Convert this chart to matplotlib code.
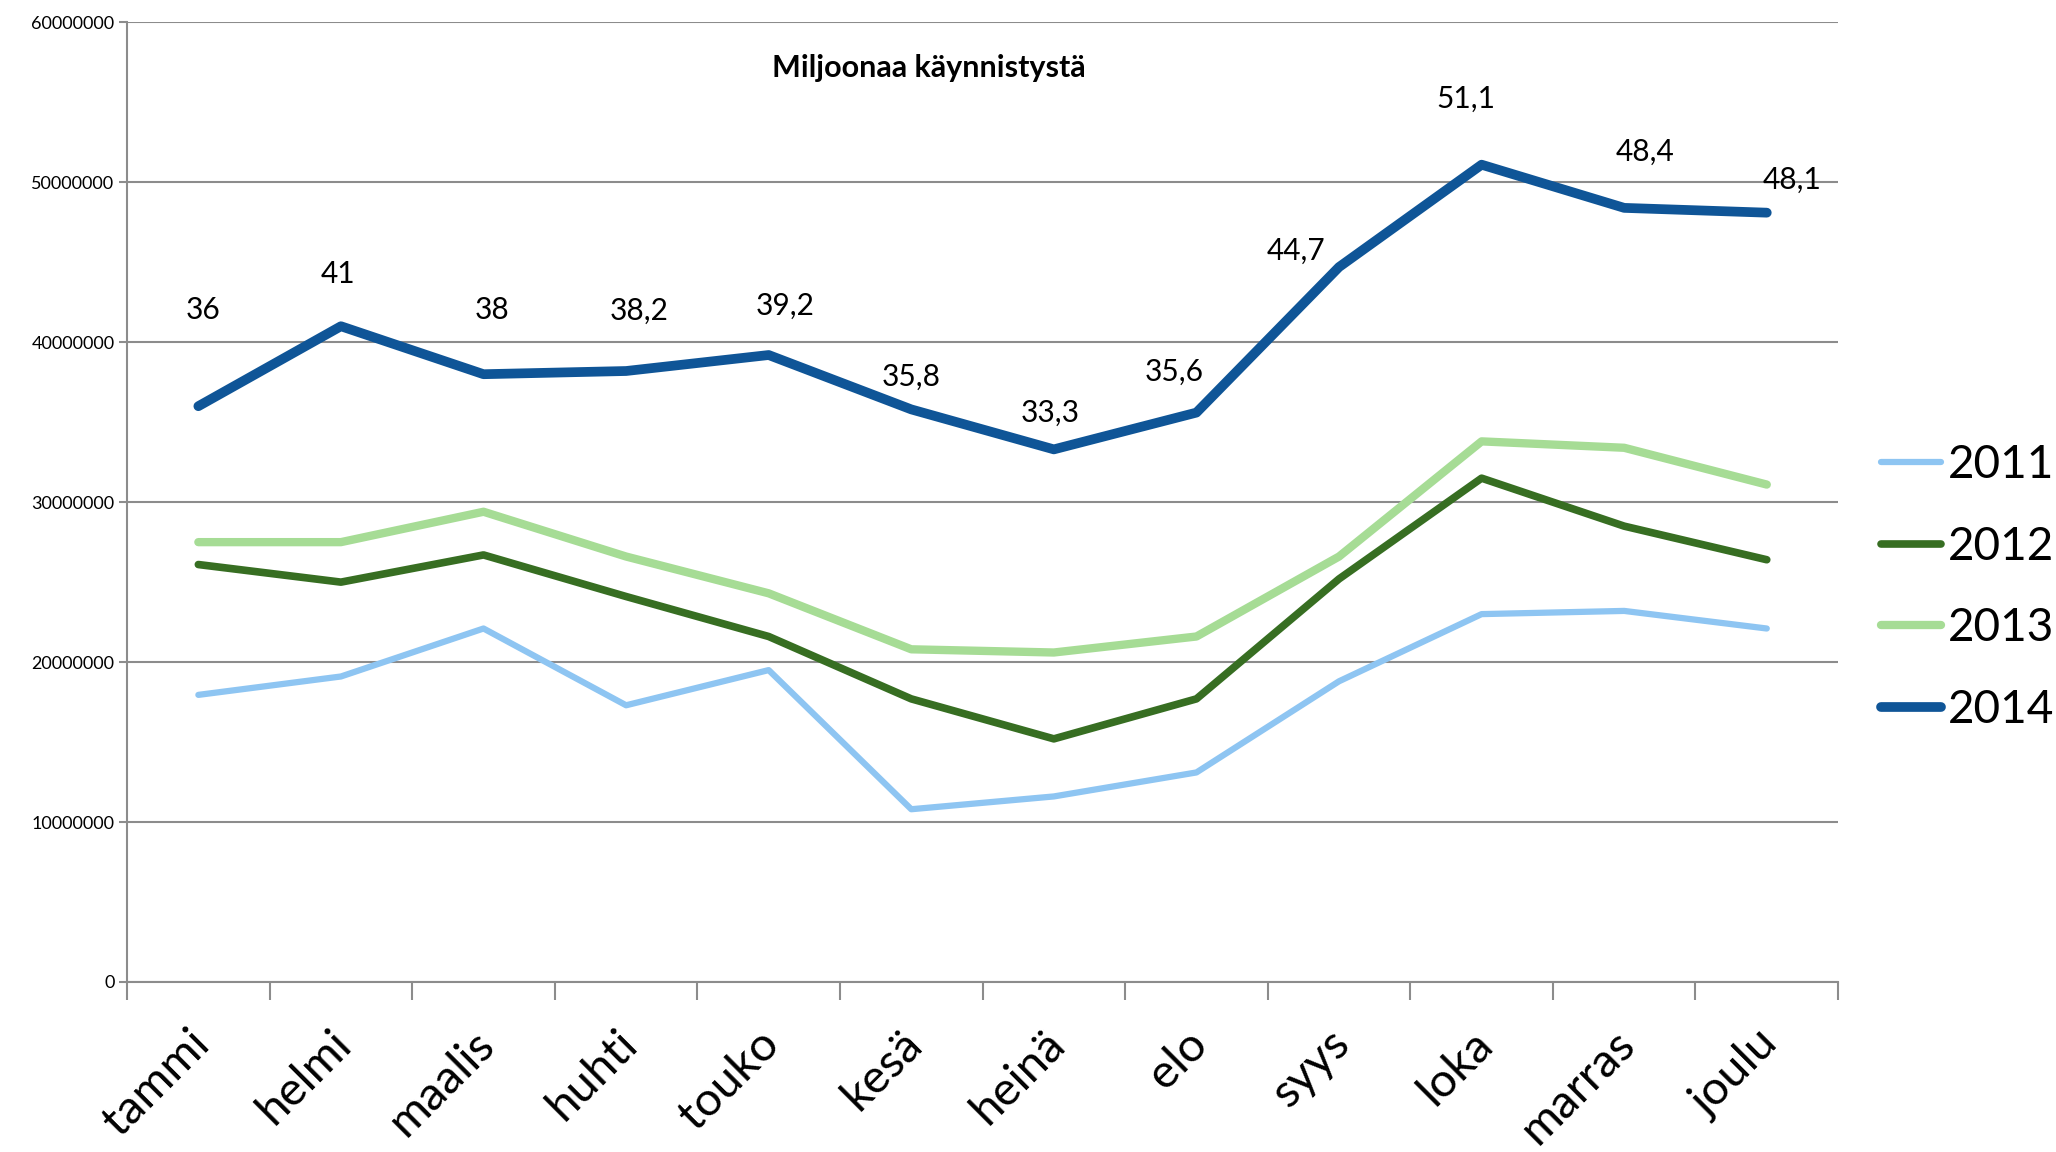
import numpy as np
import matplotlib
matplotlib.use("Agg")
from matplotlib import pyplot as plt
from matplotlib import transforms
from matplotlib.ticker import FuncFormatter, FixedLocator

months = ["tammi", "helmi", "maalis", "huhti", "touko", "kesä",
          "heinä", "elo", "syys", "loka", "marras", "joulu"]

# values in millions of starts
v2011 = [17.95, 19.1, 22.1, 17.3, 19.5, 10.8, 11.6, 13.1, 18.8, 23.0, 23.2, 22.1]
v2012 = [26.1, 25.0, 26.7, 24.1, 21.6, 17.7, 15.2, 17.7, 25.2, 31.5, 28.5, 26.4]
v2013 = [27.5, 27.5, 29.4, 26.6, 24.3, 20.8, 20.6, 21.6, 26.6, 33.8, 33.4, 31.1]
v2014 = [36, 41, 38, 38.2, 39.2, 35.8, 33.3, 35.6, 44.7, 51.1, 48.4, 48.1]

series = [("2011", v2011, "#8EC5F2", 4.5),
          ("2012", v2012, "#376E22", 5.5),
          ("2013", v2013, "#A6DC95", 6.0),
          ("2014", v2014, "#0F5597", 7.0)]

# where the value labels of 2014 sit, in pixels from the point
label_offsets = [(5, 96), (-3, 52), (9, 64), (13, 60), (16, 49), (0, 33),
                 (-4, 37), (-22, 41), (-43, 16), (-16, 66), (21, 56), (25, 33)]

plt.rcParams['font.family'] = ['Lato', 'DejaVu Sans']

fig = plt.figure(figsize=(20.56, 11.52), dpi=100)
ax = fig.add_axes([0.0618, 0.1476, 0.8322, 0.833])

x = np.arange(len(months)) + 0.5
grid_col = "#8C8C8C"

for name, vals, col, lw in series:
    y = np.array(vals) * 1e6
    ax.plot(x, y, color=col, lw=lw, solid_capstyle='round',
            solid_joinstyle='round', label=name, zorder=3)

for xi, v, (dx, dy) in zip(x, v2014, label_offsets):
    txt = ("%g" % v).replace(".", ",")
    ax.annotate(txt, (xi, v * 1e6), xytext=(dx, dy), textcoords='offset pixels',
                ha='center', va='center', fontsize=21.5, zorder=4)

ax.set_xlim(0, len(months))
ax.set_ylim(0, 60e6)
ax.set_yticks(np.arange(0, 60e6 + 1, 10e6))
ax.yaxis.set_major_formatter(FuncFormatter(lambda v, p: "%d" % v))
ax.grid(axis='y', color=grid_col, lw=1.5, zorder=0)
ax.tick_params(axis='y', length=6, width=1.5, color=grid_col, labelsize=13, pad=3)

ax.xaxis.set_major_locator(FixedLocator(np.arange(0, len(months) + 1)))
ax.xaxis.set_minor_locator(FixedLocator(x))
ax.set_xticklabels([], minor=False)
ax.set_xticklabels(months, minor=True, rotation=45, ha='right', va='top',
                   rotation_mode='anchor', fontsize=34)
ax.tick_params(axis='x', which='major', length=13, width=1.5, color=grid_col)
ax.tick_params(axis='x', which='minor', length=0, pad=29)
shift = transforms.ScaledTranslation(-0.11, 0, fig.dpi_scale_trans)
for lab in ax.get_xticklabels(minor=True):
    lab.set_transform(lab.get_transform() + shift)

for s in ["top", "right"]:
    ax.spines[s].set_visible(False)
for s in ["left", "bottom"]:
    ax.spines[s].set_color(grid_col)
    ax.spines[s].set_linewidth(1.5)

fig.text(0.452, 0.941, "Miljoonaa käynnistystä", fontsize=22,
         fontweight='bold', ha='center', va='center')

ax.legend(loc='center left', bbox_to_anchor=(0.915, 0.49),
          bbox_transform=fig.transFigure, frameon=False, fontsize=33,
          handlelength=1.3, handletextpad=0.15, labelspacing=0.86,
          borderpad=0, borderaxespad=0)

fig.savefig("out.png", dpi=100)
